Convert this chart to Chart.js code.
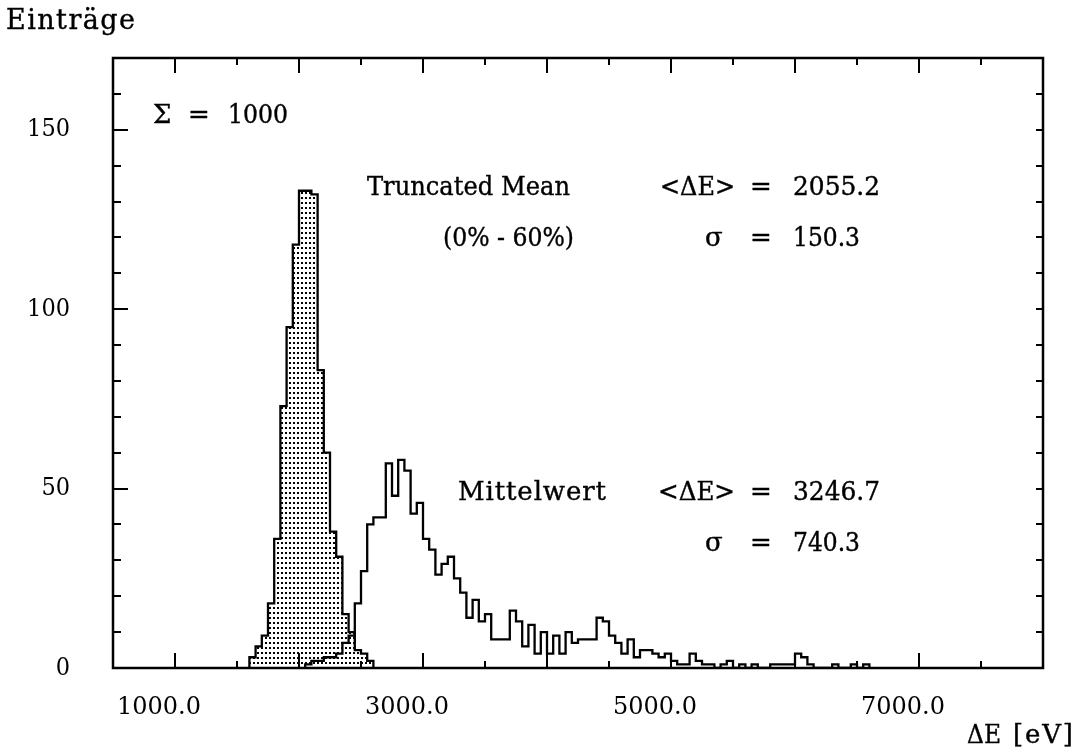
<!DOCTYPE html>
<html><head><meta charset="utf-8">
<script src="https://cdn.jsdelivr.net/npm/chart.js@4.4.1/dist/chart.umd.min.js"></script>
<style>
html,body{margin:0;padding:0;background:#fff;}
#wrap{position:relative;width:1083px;height:749px;overflow:hidden;background:#fff;}
#wrap canvas{position:absolute;left:0;top:0;}
.lbl{position:absolute;font-family:"DejaVu Serif",serif;color:#000;white-space:nowrap;line-height:1;
  -webkit-text-stroke:0.4px #000;transform-origin:0 50%;}
</style></head><body>
<div id="wrap"><canvas id="c" width="1083" height="749"></canvas></div>
<script>
// ---- data (50 eV bins, lower bin edges) ----
const binWidth = 50;
const truncatedBins = [1600,1650,1700,1750,1800,1850,1900,1950,2000,2050,2100,2150,2200,2250,2300,2350,2400,2450,2500,2550];
const truncatedCounts = [3,6,9,18,36,73,95,118,133,133,132,83,60,38,31,15,10,5,4,2];
const meanBins = [2050,2100,2150,2200,2250,2300,2350,2400,2450,2500,2550,2600,2650,2700,2750,2800,2850,2900,2950,3000,
  3050,3100,3150,3200,3250,3300,3350,3400,3450,3500,3550,3600,3650,3700,3750,3800,3850,3900,3950,4000,
  4050,4100,4150,4200,4250,4300,4350,4400,4450,4500,4550,4600,4650,4700,4750,4800,4850,4900,4950,5000,
  5050,5100,5150,5200,5250,5300,5350,5400,5450,5500,5550,5600,5650,5700,5750,5800,5850,5900,5950,6000,
  6050,6100,6150,6200,6250,6300,6350,6400,6450,6500,6550];
const meanCounts = [1,2,2,3,3,4,7,9,18,27,40,42,42,57,48,58,55,43,46,36,
  33,26,29,31,25,21,14,19,13,15,8,8,8,16,13,6,12,4,10,4,
  9,4,10,7,8,8,8,14,13,9,7,4,8,3,5,5,4,3,4,2,
  1,1,4,2,1,1,0,1,2,0,1,0,1,0,0,1,1,1,1,4,
  3,1,0,0,0,1,0,0,1,0,1];
const xTickValues = [1000,3000,5000,7000];
const xTickLabels = ['1000.0','3000.0','5000.0','7000.0'];
const yTickValues = [0,50,100,150];
const yTickLabels = ['0','50','100','150'];

function steps(bins, counts){
  const pts = [{x:bins[0], y:0}];
  bins.forEach((b,i)=>pts.push({x:b, y:counts[i]}));
  pts.push({x:bins[bins.length-1]+binWidth, y:0});
  return pts;
}

const canvas = document.getElementById('c');
const ctx = canvas.getContext('2d');
const pc = document.createElement('canvas'); pc.width = 4; pc.height = 5;
const pctx = pc.getContext('2d'); pctx.fillStyle = '#000'; pctx.fillRect(1,2,2,2);
const pattern = ctx.createPattern(pc, 'repeat');

const framePlugin = {
  id:'frame',
  afterDatasetsDraw(chart){
    const {ctx, chartArea:a, scales:{x, y}} = chart;
    ctx.save();
    ctx.strokeStyle = '#000'; ctx.lineWidth = 2;
    ctx.beginPath();
    for (let v = 500; v <= 8000; v += 500){
      const px = Math.round(x.getPixelForValue(v));
      const L = v % 1000 === 0 ? 15 : 7;
      ctx.moveTo(px, a.bottom); ctx.lineTo(px, a.bottom - L);
      ctx.moveTo(px, a.top); ctx.lineTo(px, a.top + L);
    }
    for (let v = 0; v <= 170; v += 10){
      const py = Math.round(y.getPixelForValue(v));
      const L = v % 50 === 0 ? 15 : 8;
      ctx.moveTo(a.left, py); ctx.lineTo(a.left + L, py);
      ctx.moveTo(a.right, py); ctx.lineTo(a.right - 7, py);
    }
    ctx.stroke();
    ctx.lineWidth = 2.5;
    ctx.strokeRect(a.left, a.top, a.right - a.left, a.bottom - a.top);
    ctx.restore();
  }
};

new Chart(ctx, {
  type:'line',
  data:{datasets:[
    {label:'Mittelwert', data:steps(meanBins, meanCounts), stepped:true, borderColor:'#000', borderWidth:2.3,
     pointRadius:0, fill:false, tension:0},
    {label:'Truncated Mean', data:steps(truncatedBins, truncatedCounts), stepped:true, borderColor:'#000', borderWidth:2.3,
     pointRadius:0, fill:'origin', backgroundColor:pattern, tension:0}
  ]},
  options:{
    responsive:false, animation:false, devicePixelRatio:1,
    layout:{padding:{left:0, right:40, top:50, bottom:0}},
    plugins:{legend:{display:false}, tooltip:{enabled:false}},
    scales:{
      x:{type:'linear', min:500, max:8000,
        afterFit:(s)=>{s.height = 81;},
        afterBuildTicks:(s)=>{s.ticks = xTickValues.map(v=>({value:v}));},
        grid:{display:false, drawTicks:false}, border:{display:false},
        ticks:{autoSkip:false, maxRotation:0, padding:25, labelOffset:-16, color:'#000',
          font:{family:'DejaVu Serif', size:24},
          callback:(v)=>{const i = xTickValues.indexOf(v); return i >= 0 ? xTickLabels[i] : '';}}},
      y:{type:'linear', min:0, max:170,
        afterFit:(s)=>{s.width = 113;},
        afterBuildTicks:(s)=>{s.ticks = yTickValues.map(v=>({value:v}));},
        grid:{display:false, drawTicks:false}, border:{display:false},
        ticks:{padding:43, color:'#000', font:{family:"'DejaVu Serif Condensed', 'DejaVu Serif'", size:25},
          callback:(v)=>{const i = yTickValues.indexOf(v); return i >= 0 ? yTickLabels[i] : '';}}}
    }
  },
  plugins:[framePlugin]
});

// ---- text annotations ----
const notes = [
  {t:'Einträge', x:6, cy:19, w:129, fs:27},
  {t:'Σ', x:153, cy:113, fs:26},
  {t:'=', x:188, cy:113, fs:26},
  {t:'1000', x:228, cy:113, w:60, fs:26},
  {t:'Truncated Mean', x:367, cy:185, w:203, fs:26},
  {t:'<ΔE>', x:660, cy:185, w:75, fs:26},
  {t:'=', x:750, cy:185, fs:26},
  {t:'2055.2', x:793, cy:185, w:87, fs:26},
  {t:'(0% - 60%)', x:443, cy:236, w:131, fs:26},
  {t:'σ', x:705, cy:236, fs:26},
  {t:'=', x:750, cy:236, fs:26},
  {t:'150.3', x:793, cy:236, w:67, fs:26},
  {t:'Mittelwert', x:458, cy:490, w:148, fs:26},
  {t:'<ΔE>', x:658, cy:490, w:77, fs:26},
  {t:'=', x:750, cy:490, fs:26},
  {t:'3246.7', x:793, cy:490, w:87, fs:26},
  {t:'σ', x:705, cy:541, fs:26},
  {t:'=', x:750, cy:541, fs:26},
  {t:'740.3', x:793, cy:541, w:67, fs:26},
  {t:'ΔE', x:967, cy:733, w:34, fs:26},
  {t:'[eV]', x:1013, cy:733, w:60, fs:26}
];
const wrap = document.getElementById('wrap');
const els = notes.map(n=>{
  const d = document.createElement('div');
  d.className = 'lbl';
  d.textContent = n.t;
  d.style.fontSize = n.fs + 'px';
  d.style.left = n.x + 'px';
  d.style.top = (n.cy - 0.48*n.fs) + 'px';
  wrap.appendChild(d);
  return d;
});
function fit(){
  els.forEach((d,i)=>{
    const n = notes[i];
    if (!n.w) return;
    d.style.letterSpacing = '0px';
    d.style.transform = 'none';
    const w = d.getBoundingClientRect().width;
    if (w > n.w) {
      d.style.transform = 'scaleX(' + (n.w / w) + ')';
    } else if (n.t.length > 1) {
      d.style.letterSpacing = ((n.w - w)/(n.t.length-1)) + 'px';
    }
  });
}
fit();
if (document.fonts && document.fonts.ready) document.fonts.ready.then(fit);
</script>
</body></html>
